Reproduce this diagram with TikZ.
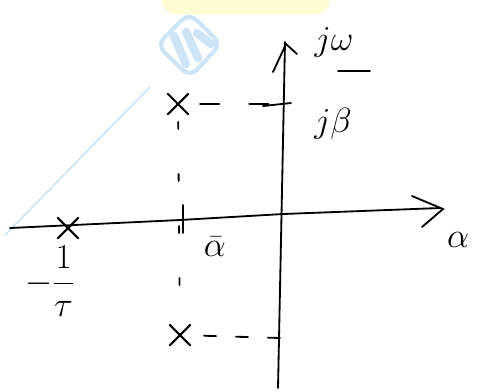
\documentclass[tikz,border=0pt]{standalone}
\usepackage{amsmath}
\usetikzlibrary{shapes.misc}
\definecolor{wmblue}{RGB}{205,228,246}

\begin{document}
\begin{tikzpicture}[x=0.025cm, y=-0.025cm, line width=1.3pt, line cap=round,
        pole/.style={draw, cross out, minimum size=0.45cm, inner sep=0pt, line width=1.5pt},
        every node/.style={font=\fontsize{36}{40}\selectfont}]
        \useasboundingbox (0,0) rectangle (484,391);
        % highlight and watermark
        \fill[yellow!18, rounded corners=10pt] (162,-20) rectangle (330,14);
        \draw[wmblue, line width=1.2pt] (150,87) -- (5,235);
        \draw[wmblue, line width=3pt, rounded corners=7pt] (189,13) -- (221,44) -- (190,77) -- (157,45) -- cycle;
        \draw[wmblue, line width=6pt] (174,36) -- (186,64);
        \draw[wmblue, line width=6pt] (186,32) -- (198,58);
        \draw[wmblue, line width=6pt] (197,33) -- (211,44);
        % axes
        \coordinate (o) at (283,214);
        \draw (10,228) -- (180,220) -- (o) -- (440,208);
        \draw (412,196) -- (443,209) -- (422,227);
        \draw (278,388) -- (285,42);
        \draw (273,72) -- (286,44) -- (297,54);
        \node (alab) at (458,240) {$\alpha$};
        \node (wlab) at (334,42) {$j\omega$};
        % poles
        \node[pole] (p1) at (68,228) {};
        \node[pole] (p2) at (178,104) {};
        \node[pole] (p3) at (180,335) {};
        \node[font=\fontsize{30}{34}\selectfont] (tlab) at (50,281) {$-\dfrac{1}{\tau}$};
        % imaginary part
        \coordinate (jb) at (283,104);
        \draw (263,106) -- (291,103);
        \draw[dash pattern=on 0.48cm off 0.75cm, shorten <=0.55cm] (p2.center) -- (jb);
        \node (blab) at (333,124) {$j\beta$};
        \draw (338,71) -- (370,71);
        \coordinate (jm) at (280,338);
        \draw[dash pattern=on 0.3cm off 0.5cm, shorten <=0.6cm] (p3.center) -- (jm);
        % real part
        \draw[dash pattern=on 5pt off 32pt, shorten <=0.45cm, shorten >=0.45cm] (p2.center) -- (p3.center);
        \draw (183,205) -- (183,233);
        \node (ablab) at (215,247) {$\bar{\alpha}$};
\end{tikzpicture}
\end{document}
